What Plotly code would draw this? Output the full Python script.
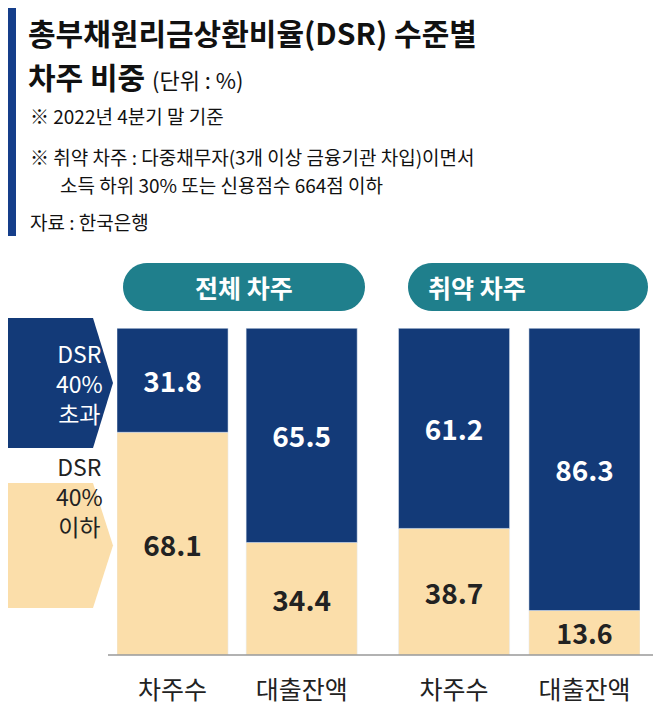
import plotly.graph_objects as go
import math

W, H = 661, 709
categories = ["차주수", "대출잔액", "차주수 ", "대출잔액 "]
xpos = [0, 1, 2.18, 3.19]
over40 = [31.8, 65.5, 61.2, 86.3]
under40 = [68.1, 34.4, 38.7, 13.6]
groups = ["전체 차주", "취약 차주"]

NAVY = "#133a78"
BEIGE = "#fbdeaa"
TEAL = "#1f7f8c"
FONT = "Noto Sans CJK KR"

def px(x): return x / W
def py(y): return 1 - y / H

fig = go.Figure()
fig.add_bar(x=xpos, y=under40, marker_color=BEIGE, width=0.86,
            text=[f"<b>{v:.1f}</b>" for v in under40], textposition="inside", insidetextanchor="middle",
            textfont=dict(color="#222", size=28, family=FONT), hoverinfo="skip")
fig.add_bar(x=xpos, y=over40, base=under40, marker_color=NAVY, width=0.86,
            text=[f"<b>{v:.1f}</b>" for v in over40], textposition="inside", insidetextanchor="middle",
            textfont=dict(color="white", size=28, family=FONT), hoverinfo="skip")

fig.update_layout(
    width=W, height=H, margin=dict(l=0, r=0, t=0, b=0), barmode="overlay",
    plot_bgcolor="white", paper_bgcolor="white", showlegend=False,
    xaxis=dict(domain=[px(109), px(632)], range=[-0.43, 3.62], tickvals=xpos,
               ticktext=[c.strip() for c in categories], showgrid=False, zeroline=False,
               tickfont=dict(size=25, family=FONT, color="#222"), ticks="", ticklabelstandoff=18),
    yaxis=dict(domain=[py(647), py(320)], range=[0, 100], visible=False),
    font=dict(family=FONT),
)

shapes = []
shapes.append(dict(type="rect", xref="paper", yref="paper", x0=0, x1=px(8), y0=py(228), y1=1,
                   fillcolor="#153e8a", line_width=0))
shapes.append(dict(type="line", xref="paper", yref="paper", x0=px(100), x1=1, y0=py(647), y1=py(647),
                   line=dict(color="#999", width=1.5)))

def pill(x0, x1, y0, y1):
    r = (y1 - y0) / 2
    p = f"M {px(x0+r)} {py(y0)} L {px(x1-r)} {py(y0)} "
    pts = []
    for i in range(0, 21):
        a = -math.pi/2 + math.pi * i / 20
        pts.append(f"L {px(x1-r + r*math.cos(a))} {py(y0 + r + r*math.sin(a))}")
    p += " ".join(pts)
    p += f" L {px(x0+r)} {py(y1)} "
    pts = []
    for i in range(0, 21):
        a = math.pi/2 + math.pi * i / 20
        pts.append(f"L {px(x0+r + r*math.cos(a))} {py(y0 + r + r*math.sin(a))}")
    p += " ".join(pts) + " Z"
    return p

for (x0, x1), g in zip([(115, 357), (400, 640)], groups):
    shapes.append(dict(type="path", xref="paper", yref="paper", path=pill(x0, x1, 255, 303),
                       fillcolor=TEAL, line_width=0))
    fig.add_annotation(xref="paper", yref="paper", x=px((x0+x1)/2), y=py(279), text=f"<b>{g}</b>",
                       showarrow=False, font=dict(size=25, color="white", family=FONT))

def arrow_box(y0, y1):
    ym = (y0 + y1) / 2
    return (f"M 0 {py(y0)} L {px(85)} {py(y0)} L {px(105)} {py(ym)} "
            f"L {px(85)} {py(y1)} L 0 {py(y1)} Z")

shapes.append(dict(type="path", xref="paper", yref="paper", path=arrow_box(310, 440),
                   fillcolor=NAVY, line_width=0))
shapes.append(dict(type="path", xref="paper", yref="paper", path=arrow_box(475, 600),
                   fillcolor=BEIGE, line_width=0))
fig.add_annotation(xref="paper", yref="paper", x=px(46), y=py(375), text="DSR<br>40%<br>초과",
                   showarrow=False, align="center", font=dict(size=23, color="white", family=FONT))
fig.add_annotation(xref="paper", yref="paper", x=px(46), y=py(537), text="DSR<br>40%<br>이하",
                   showarrow=False, align="center", font=dict(size=23, color="#222", family=FONT))
fig.update_layout(shapes=shapes)

def txt(x, y, t, size, bold=False, color="#111"):
    fig.add_annotation(xref="paper", yref="paper", x=px(x), y=py(y), text=(f"<b>{t}</b>" if bold else t),
                       showarrow=False, xanchor="left", yanchor="middle",
                       font=dict(size=size, color=color, family=FONT))

txt(18, 24, "총부채원리금상환비율(DSR) 수준별", 30, True)
txt(18, 68, "<b>차주 비중</b> <span style='font-size:22px'>(단위 : %)</span>", 30)
txt(20, 108, "※ 2022년 4분기 말 기준", 19)
txt(20, 148, "※ 취약 차주 : 다중채무자(3개 이상 금융기관 차입)이면서", 19)
txt(50, 176, "소득 하위 30% 또는 신용점수 664점 이하", 19)
txt(20, 214, "자료 : 한국은행", 19)

fig.write_html("out.html")
